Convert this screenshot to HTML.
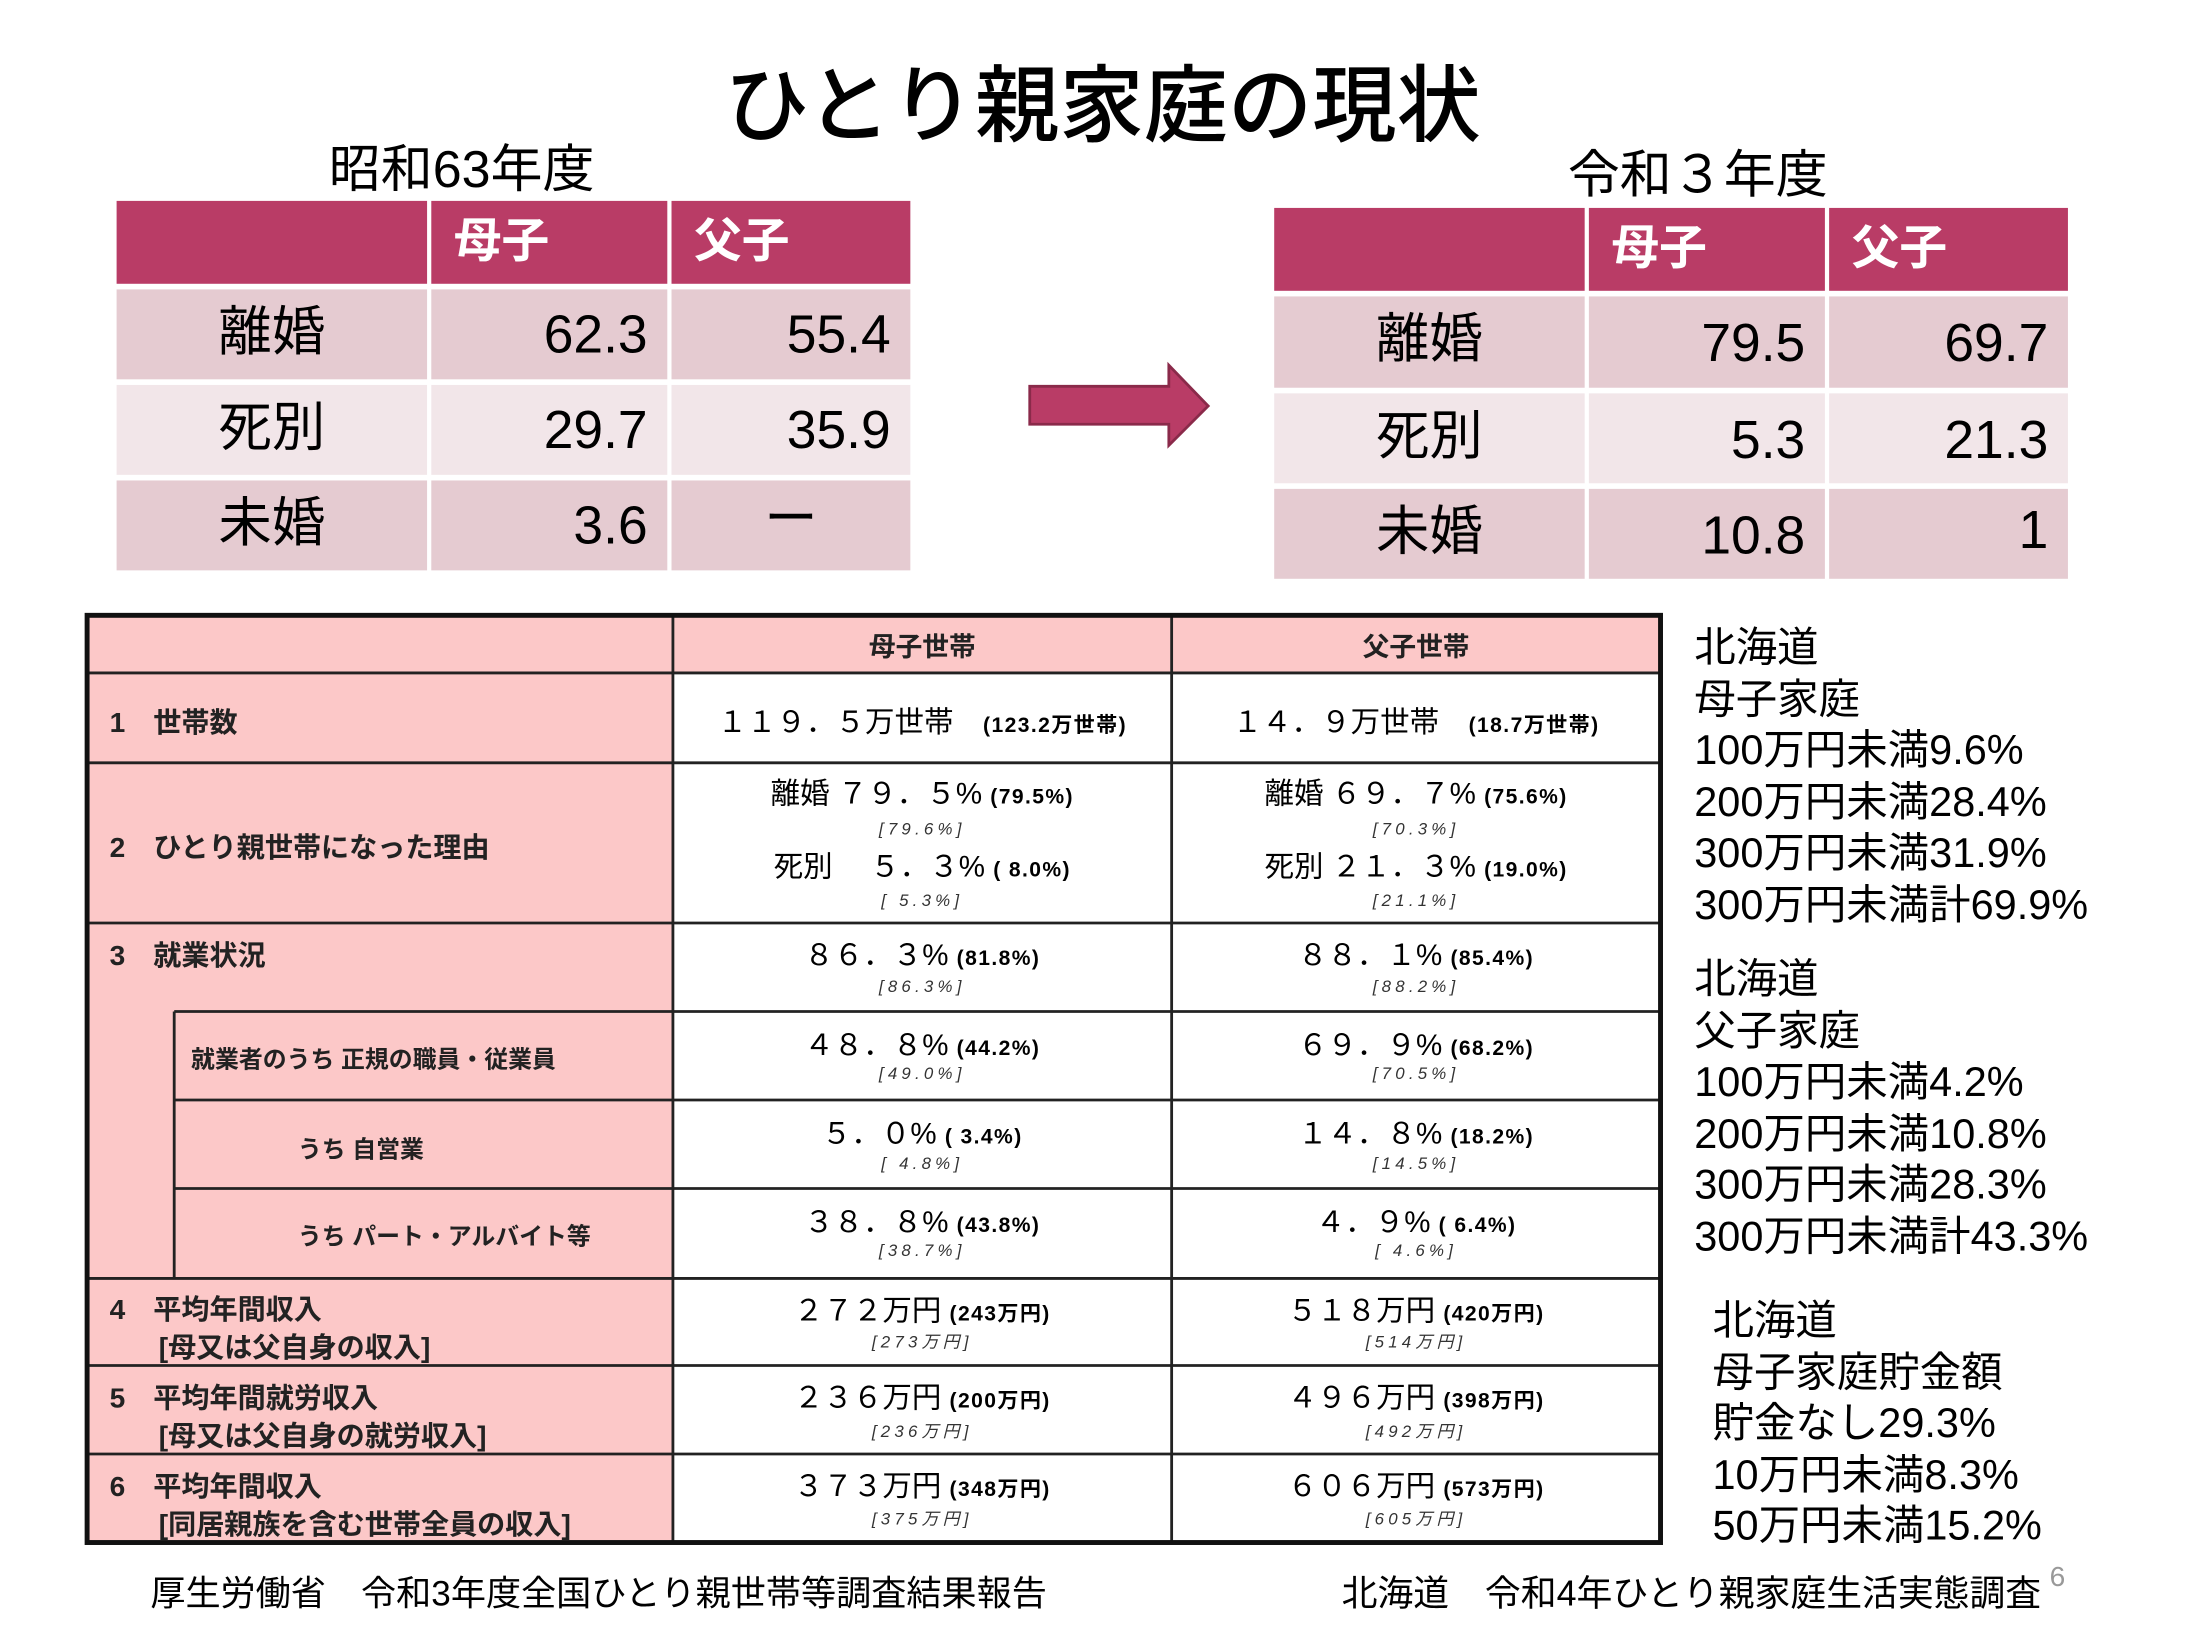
<!DOCTYPE html>
<html><head><meta charset="utf-8">
<style>
html,body{margin:0;padding:0;background:#fff;}
body{width:2200px;height:1650px;overflow:hidden;position:relative;}
#f{position:absolute;left:0;top:0;width:1566px;height:1175px;transform:scale(1.40485);transform-origin:0 0;font-family:"Liberation Sans","Noto Sans CJK JP",sans-serif;color:#000;}
.a{position:absolute;white-space:nowrap;}
.c{position:absolute;box-sizing:border-box;}
.h{background:#b93c66;}
.d{background:#e5cbd1;}
.l{background:#f2e6e9;}
.hw{color:#fff;font-weight:bold;font-size:34px;line-height:59px;}
.n{font-size:38px;text-align:right;padding-right:14px;}
.k{font-size:38px;text-align:center;}
.cell{position:absolute;text-align:center;white-space:nowrap;}
.m{font-size:21px;letter-spacing:0px;}
.m b{font-size:15px;letter-spacing:1px;}
.s{font-size:12px;font-style:italic;letter-spacing:3px;color:#333;}
.lb{font-size:20px;font-weight:bold;color:#222;}
.r{font-size:29.5px;line-height:36.5px;}
</style></head><body><div id="f">
<div class="a" style="left:0;width:1570px;top:38px;text-align:center;font-size:60px;line-height:76px;font-weight:500;">ひとり親家庭の現状</div>
<div class="a" style="left:234px;top:98px;font-size:37px;line-height:46px;">昭和63年度</div>
<div class="a" style="left:1116px;top:102px;font-size:37px;line-height:46px;">令和３年度</div>

<div class="c h" style="left:83px;top:143px;width:221px;height:59px"></div>
<div class="c h hw" style="left:307px;top:143px;width:168px;height:59px;padding-left:16px">母子</div>
<div class="c h hw" style="left:478px;top:143px;width:170px;height:59px;padding-left:16px">父子</div>
<div class="c d k" style="left:83px;top:206px;width:221px;height:64px;line-height:62px">離婚</div>
<div class="c d n" style="left:307px;top:206px;width:168px;height:64px;line-height:66px">62.3</div>
<div class="c d n" style="left:478px;top:206px;width:170px;height:64px;line-height:66px">55.4</div>
<div class="c l k" style="left:83px;top:274px;width:221px;height:64px;line-height:62px">死別</div>
<div class="c l n" style="left:307px;top:274px;width:168px;height:64px;line-height:66px">29.7</div>
<div class="c l n" style="left:478px;top:274px;width:170px;height:64px;line-height:66px">35.9</div>
<div class="c d k" style="left:83px;top:342px;width:221px;height:64px;line-height:62px">未婚</div>
<div class="c d n" style="left:307px;top:342px;width:168px;height:64px;line-height:66px">3.6</div>
<div class="c d k" style="left:478px;top:342px;width:170px;height:64px;line-height:56px;">ー</div>

<svg class="a" style="left:730px;top:255px" width="135" height="66"><polygon points="3,20 102,20 102,5 130,34 102,62 102,47 3,47" fill="#b93c66" stroke="#8a2a4a" stroke-width="2"/></svg>

<div class="c h" style="left:907px;top:148px;width:221px;height:59px"></div>
<div class="c h hw" style="left:1131px;top:148px;width:168px;height:59px;padding-left:16px">母子</div>
<div class="c h hw" style="left:1302px;top:148px;width:170px;height:59px;padding-left:16px">父子</div>
<div class="c d k" style="left:907px;top:211px;width:221px;height:65px;line-height:62px">離婚</div>
<div class="c d n" style="left:1131px;top:211px;width:168px;height:65px;line-height:68px">79.5</div>
<div class="c d n" style="left:1302px;top:211px;width:170px;height:65px;line-height:68px">69.7</div>
<div class="c l k" style="left:907px;top:280px;width:221px;height:64px;line-height:62px">死別</div>
<div class="c l n" style="left:1131px;top:280px;width:168px;height:64px;line-height:68px">5.3</div>
<div class="c l n" style="left:1302px;top:280px;width:170px;height:64px;line-height:68px">21.3</div>
<div class="c d k" style="left:907px;top:348px;width:221px;height:64px;line-height:62px">未婚</div>
<div class="c d n" style="left:1131px;top:348px;width:168px;height:64px;line-height:68px">10.8</div>
<div class="c d n" style="left:1302px;top:348px;width:170px;height:64px;line-height:60px">1</div>

<svg class="a" style="left:0;top:0" width="1566" height="1175">
<rect x="62" y="437" width="1120" height="42" fill="#fcc8c8"/>
<rect x="62" y="479" width="417" height="619" fill="#fcc8c8"/>
<g stroke="#222" stroke-width="2" fill="none">
<line x1="479" y1="437" x2="479" y2="1098"/>
<line x1="834" y1="437" x2="834" y2="1098"/>
<line x1="62" y1="479" x2="1182" y2="479"/>
<line x1="62" y1="543" x2="1182" y2="543"/>
<line x1="62" y1="657" x2="1182" y2="657"/>
<line x1="124" y1="720" x2="1182" y2="720"/>
<line x1="124" y1="783" x2="1182" y2="783"/>
<line x1="124" y1="846" x2="1182" y2="846"/>
<line x1="62" y1="910" x2="1182" y2="910"/>
<line x1="62" y1="972" x2="1182" y2="972"/>
<line x1="62" y1="1035" x2="1182" y2="1035"/>
<line x1="124" y1="720" x2="124" y2="910"/>
</g>
<rect x="62" y="438" width="1120" height="660" fill="none" stroke="#111" stroke-width="3.5"/>
</svg>
<div class="cell lb" style="left:479px;width:355px;top:446px;font-size:19px">母子世帯</div>
<div class="cell lb" style="left:834px;width:348px;top:446px;font-size:19px">父子世帯</div>

<div class="a lb" style="left:78px;top:498px">1　世帯数</div>
<div class="a lb" style="left:78px;top:587px">2　ひとり親世帯になった理由</div>
<div class="a lb" style="left:78px;top:664px">3　就業状況</div>
<div class="a lb" style="left:136px;top:740px;font-size:17px">就業者のうち 正規の職員・従業員</div>
<div class="a lb" style="left:212px;top:804px;font-size:17px">うち 自営業</div>
<div class="a lb" style="left:212px;top:866px;font-size:17px">うち パート・アルバイト等</div>
<div class="a lb" style="left:78px;top:916px">4　平均年間収入</div>
<div class="a lb" style="left:113px;top:943px">[母又は父自身の収入]</div>
<div class="a lb" style="left:78px;top:979px">5　平均年間就労収入</div>
<div class="a lb" style="left:113px;top:1006px">[母又は父自身の就労収入]</div>
<div class="a lb" style="left:78px;top:1042px">6　平均年間収入</div>
<div class="a lb" style="left:113px;top:1069px">[同居親族を含む世帯全員の収入]</div>

<div class="cell m" style="left:479px;width:355px;top:498px">１１９．５万世帯　<b>(123.2万世帯)</b></div>
<div class="cell m" style="left:479px;width:355px;top:549px">離婚 ７９．５% <b>(79.5%)</b></div>
<div class="cell s" style="left:479px;width:355px;top:583px">[79.6%]</div>
<div class="cell m" style="left:479px;width:355px;top:601px">死別　 ５．３% <b>( 8.0%)</b></div>
<div class="cell s" style="left:479px;width:355px;top:634px">[ 5.3%]</div>
<div class="cell m" style="left:479px;width:355px;top:664px">８６．３% <b>(81.8%)</b></div>
<div class="cell s" style="left:479px;width:355px;top:695px">[86.3%]</div>
<div class="cell m" style="left:479px;width:355px;top:728px">４８．８% <b>(44.2%)</b></div>
<div class="cell s" style="left:479px;width:355px;top:757px">[49.0%]</div>
<div class="cell m" style="left:479px;width:355px;top:791px">５．０% <b>( 3.4%)</b></div>
<div class="cell s" style="left:479px;width:355px;top:821px">[ 4.8%]</div>
<div class="cell m" style="left:479px;width:355px;top:854px">３８．８% <b>(43.8%)</b></div>
<div class="cell s" style="left:479px;width:355px;top:883px">[38.7%]</div>
<div class="cell m" style="left:479px;width:355px;top:917px">２７２万円 <b>(243万円)</b></div>
<div class="cell s" style="left:479px;width:355px;top:946px">[273万円]</div>
<div class="cell m" style="left:479px;width:355px;top:979px">２３６万円 <b>(200万円)</b></div>
<div class="cell s" style="left:479px;width:355px;top:1010px">[236万円]</div>
<div class="cell m" style="left:479px;width:355px;top:1042px">３７３万円 <b>(348万円)</b></div>
<div class="cell s" style="left:479px;width:355px;top:1072px">[375万円]</div>

<div class="cell m" style="left:834px;width:348px;top:498px">１４．９万世帯　<b>(18.7万世帯)</b></div>
<div class="cell m" style="left:834px;width:348px;top:549px">離婚 ６９．７% <b>(75.6%)</b></div>
<div class="cell s" style="left:834px;width:348px;top:583px">[70.3%]</div>
<div class="cell m" style="left:834px;width:348px;top:601px">死別 ２１．３% <b>(19.0%)</b></div>
<div class="cell s" style="left:834px;width:348px;top:634px">[21.1%]</div>
<div class="cell m" style="left:834px;width:348px;top:664px">８８．１% <b>(85.4%)</b></div>
<div class="cell s" style="left:834px;width:348px;top:695px">[88.2%]</div>
<div class="cell m" style="left:834px;width:348px;top:728px">６９．９% <b>(68.2%)</b></div>
<div class="cell s" style="left:834px;width:348px;top:757px">[70.5%]</div>
<div class="cell m" style="left:834px;width:348px;top:791px">１４．８% <b>(18.2%)</b></div>
<div class="cell s" style="left:834px;width:348px;top:821px">[14.5%]</div>
<div class="cell m" style="left:834px;width:348px;top:854px">４．９% <b>( 6.4%)</b></div>
<div class="cell s" style="left:834px;width:348px;top:883px">[ 4.6%]</div>
<div class="cell m" style="left:834px;width:348px;top:917px">５１８万円 <b>(420万円)</b></div>
<div class="cell s" style="left:834px;width:348px;top:946px">[514万円]</div>
<div class="cell m" style="left:834px;width:348px;top:979px">４９６万円 <b>(398万円)</b></div>
<div class="cell s" style="left:834px;width:348px;top:1010px">[492万円]</div>
<div class="cell m" style="left:834px;width:348px;top:1042px">６０６万円 <b>(573万円)</b></div>
<div class="cell s" style="left:834px;width:348px;top:1072px">[605万円]</div>

<div class="a r" style="left:1206px;top:444px">北海道<br>母子家庭<br>100万円未満9.6%<br>200万円未満28.4%<br>300万円未満31.9%<br>300万円未満計69.9%</div>
<div class="a r" style="left:1206px;top:680px">北海道<br>父子家庭<br>100万円未満4.2%<br>200万円未満10.8%<br>300万円未満28.3%<br>300万円未満計43.3%</div>
<div class="a r" style="left:1219px;top:923px">北海道<br>母子家庭貯金額<br>貯金なし29.3%<br>10万円未満8.3%<br>50万円未満15.2%</div>

<div class="a" style="left:107px;top:1119px;font-size:25px;line-height:32px">厚生労働省　令和3年度全国ひとり親世帯等調査結果報告</div>
<div class="a" style="left:955px;top:1119px;font-size:25.5px;line-height:32px">北海道　令和4年ひとり親家庭生活実態調査</div>
<div class="a" style="left:1459px;top:1112px;font-size:20px;color:#999">6</div>
</div></body></html>
